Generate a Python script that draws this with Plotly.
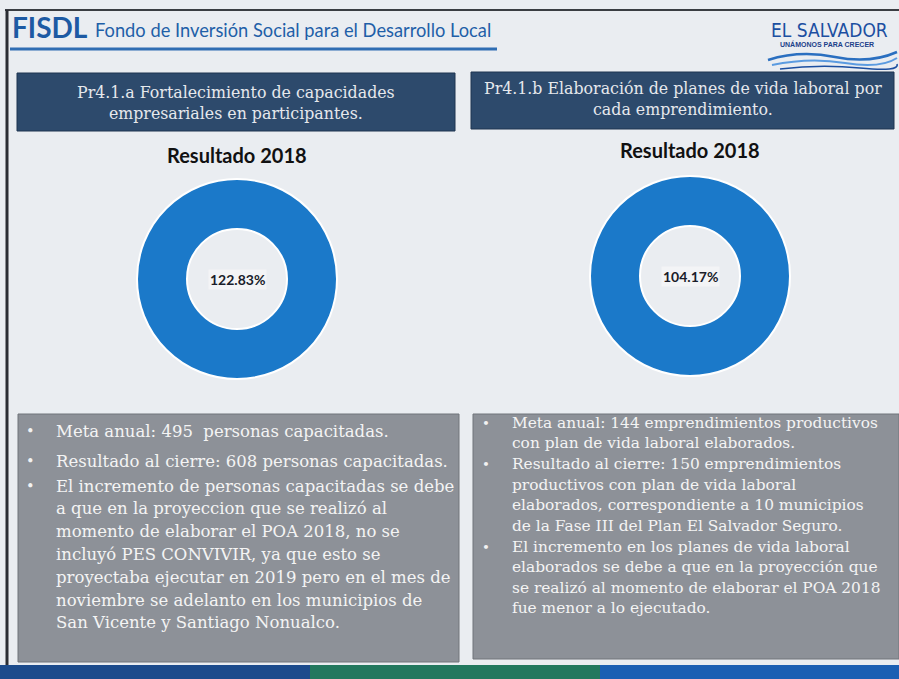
import plotly.graph_objects as go

# ---------------- data ----------------
indicator_titles = [
    "Pr4.1.a Fortalecimiento de capacidades<br>empresariales en participantes.",
    "Pr4.1.b Elaboración de planes de vida laboral por<br>cada emprendimiento.",
]
chart_titles = ["Resultado 2018", "Resultado 2018"]
resultado_pct = [122.83, 104.17]

left_lines = [
    ("•", "Meta anual: 495  personas capacitadas."),
    ("•", "Resultado al cierre: 608 personas capacitadas."),
    ("•", "El incremento de personas capacitadas se debe"),
    ("", "a que en la proyeccion que se realizó al"),
    ("", "momento de elaborar el POA 2018, no se"),
    ("", "incluyó PES CONVIVIR, ya que esto se"),
    ("", "proyectaba ejecutar en 2019 pero en el mes de"),
    ("", "noviembre se adelanto en los municipios de"),
    ("", "San Vicente y Santiago Nonualco."),
]
right_lines = [
    ("•", "Meta anual: 144 emprendimientos productivos"),
    ("", "con plan de vida laboral elaborados."),
    ("•", "Resultado al cierre: 150 emprendimientos"),
    ("", "productivos con plan de vida laboral"),
    ("", "elaborados, correspondiente a 10 municipios"),
    ("", "de la Fase III del Plan El Salvador Seguro."),
    ("•", "El incremento en los planes de vida laboral"),
    ("", "elaborados se debe a que en la proyección que"),
    ("", "se realizó al momento de elaborar el POA 2018"),
    ("", "fue menor a lo ejecutado."),
]

# ---------------- layout constants ----------------
W, H = 899, 679
BG = "#eaedf1"
NAVY = "#2d4a6c"
GREY = "#8d9198"
RING = "#1b79c9"
SERIF = "DejaVu Serif, Liberation Serif, serif"
SANS = "Lato, Open Sans, sans-serif"

donuts = [dict(cx=237, cy=279, r=100), dict(cx=690, cy=276, r=100)]
title_y = [155, 150]
title_boxes = [(17, 73, 455, 131), (471, 72, 894, 129)]
title_text_y = [103, 99]
text_boxes = [(18, 414, 459, 662), (473, 414, 899, 659)]
left_y = [431, 461, 486, 508, 531, 554, 577, 600, 622]
right_y = [423, 443, 464, 485, 505, 526, 547, 567, 588, 608]

fig = go.Figure()
# invisible trace to establish a pixel-like cartesian frame
fig.add_trace(go.Scatter(x=[0, W], y=[0, H], mode="markers",
                         marker=dict(opacity=0), hoverinfo="skip", showlegend=False))

shapes = []
annotations = []

# frame lines
shapes.append(dict(type="line", x0=5, x1=W, y0=10, y1=10, line=dict(color="#3a3d42", width=2)))
shapes.append(dict(type="line", x0=7, x1=7, y0=10, y1=665, line=dict(color="#2a2d33", width=3)))
# header underline
shapes.append(dict(type="line", x0=10, x1=497, y0=49, y1=49, line=dict(color="#2f6db3", width=3)))

# header text
annotations.append(dict(x=10, y=27, xref="x", yref="y", xanchor="left", yanchor="middle",
                        text="<b>FISDL</b>", showarrow=False,
                        font=dict(family=SANS, size=28, color="#1d5aa3")))
annotations.append(dict(x=93, y=30, xref="x", yref="y", xanchor="left", yanchor="middle",
                        text="Fondo de Inversión Social para el Desarrollo Local", showarrow=False,
                        font=dict(family=SANS, size=18.3, color="#1f5fa8")))
# logo
annotations.append(dict(x=829, y=30, xref="x", yref="y", xanchor="center", yanchor="middle",
                        text="EL SALVADOR", showarrow=False,
                        font=dict(family="Liberation Sans Narrow, DejaVu Sans Condensed, Liberation Sans, sans-serif",
                                  size=19, color="#1c4fa1")))
annotations.append(dict(x=827, y=44, xref="x", yref="y", xanchor="center", yanchor="middle",
                        text="<b>UNÁMONOS PARA CRECER</b>", showarrow=False,
                        font=dict(family="Liberation Sans, sans-serif", size=7, color="#1c3f8a")))
for d, c, wdt in [("M 768 60 Q 800 50 835 57 T 897 52", "#2a6fc0", 2.5),
                  ("M 772 65 Q 810 57 845 63 T 897 58", "#5b9be0", 2),
                  ("M 780 69 Q 820 64 860 68 T 897 64", "#1c4fa1", 1.5)]:
    shapes.append(dict(type="path", path=d, line=dict(color=c, width=wdt)))

# title boxes
for (x0, y0, x1, y1), t, ty in zip(title_boxes, indicator_titles, title_text_y):
    shapes.append(dict(type="rect", x0=x0, x1=x1, y0=y0, y1=y1, fillcolor=NAVY,
                       line=dict(color="#1f3550", width=1), layer="below"))
    annotations.append(dict(x=(x0 + x1) / 2, y=ty, xref="x", yref="y", xanchor="center",
                            yanchor="middle", text=t, showarrow=False,
                            font=dict(family=SERIF, size=15.8, color="#e6e8ec")))

# donut charts
for i, (d, pct, ct, ty) in enumerate(zip(donuts, resultado_pct, chart_titles, title_y)):
    filled = min(pct, 100)
    rest = max(0, 100 - pct)
    vals, labs, cols = [filled], ["Resultado"], [RING]
    if rest > 0:
        vals.append(rest); labs.append("Pendiente"); cols.append("#d0d4da")
    fig.add_trace(go.Pie(
        values=vals, labels=labs,
        hole=0.5, sort=False, direction="clockwise",
        marker=dict(colors=cols, line=dict(color="#ffffff", width=2)),
        textinfo="none", hoverinfo="label+value", showlegend=False,
        domain=dict(x=[(d["cx"] - d["r"]) / W, (d["cx"] + d["r"]) / W],
                    y=[1 - (d["cy"] + d["r"]) / H, 1 - (d["cy"] - d["r"]) / H]),
    ))
    annotations.append(dict(x=d["cx"], y=d["cy"], xref="x", yref="y", xanchor="center",
                            yanchor="middle", text=f"<b>{pct:.2f}%</b>", showarrow=False,
                            bgcolor="#f3f4f6",
                            font=dict(family=SANS, size=14, color="#1a1d2a")))
    annotations.append(dict(x=d["cx"], y=ty, xref="x", yref="y", xanchor="center",
                            yanchor="middle", text=f"<b>{ct}</b>", showarrow=False,
                            font=dict(family=SANS, size=20, color="#111111")))

# text boxes
for (x0, y0, x1, y1) in text_boxes:
    shapes.append(dict(type="rect", x0=x0, x1=x1, y0=y0, y1=y1, fillcolor=GREY,
                       line=dict(color="#70747b", width=1), layer="below"))

def add_lines(lines, ys, bx, tx, size):
    for (b, t), y in zip(lines, ys):
        if b:
            annotations.append(dict(x=bx, y=y, xref="x", yref="y", xanchor="center",
                                    yanchor="middle", text=b, showarrow=False,
                                    font=dict(family=SERIF, size=size - 2, color="#f2f2f2")))
        annotations.append(dict(x=tx, y=y, xref="x", yref="y", xanchor="left",
                                yanchor="middle", text=t, showarrow=False,
                                font=dict(family=SERIF, size=size, color="#f4f4f4")))

add_lines(left_lines, left_y, 30, 54, 16.5)
add_lines(right_lines, right_y, 486, 510, 15.4)

# bottom band
for x0, x1, c in [(0, 310, "#1c4b8c"), (310, 600, "#22785e"), (600, W, "#1b5fb3")]:
    shapes.append(dict(type="rect", x0=x0, x1=x1, y0=665, y1=H, fillcolor=c, line=dict(width=0)))

fig.update_layout(
    width=W, height=H, margin=dict(l=0, r=0, t=0, b=0),
    paper_bgcolor=BG, plot_bgcolor=BG,
    xaxis=dict(range=[0, W], visible=False, fixedrange=True),
    yaxis=dict(range=[H, 0], visible=False, fixedrange=True),
    shapes=shapes, annotations=annotations, showlegend=False,
)

fig.write_html("out.html", config={"displayModeBar": False},
               post_script="document.body.style.margin='0';document.body.style.padding='0';")
